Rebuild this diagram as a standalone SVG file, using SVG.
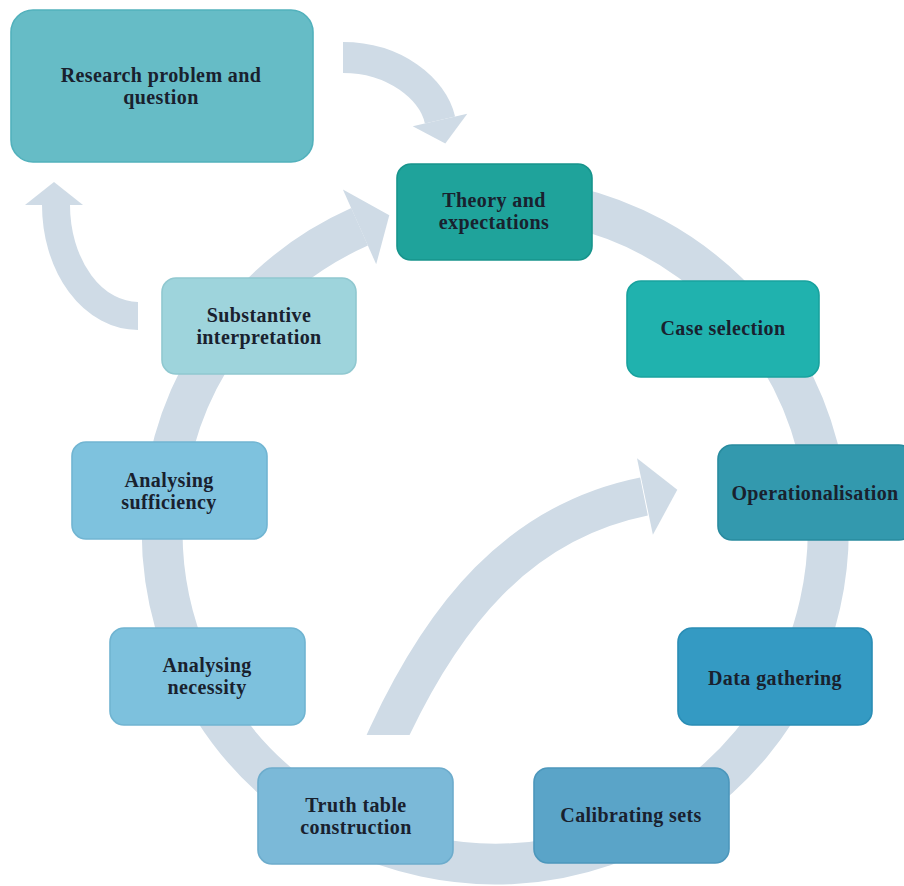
<svg xmlns="http://www.w3.org/2000/svg" width="904" height="886" viewBox="0 0 904 886">
  <style>
    .band { fill: none; stroke: #cfdbe6; stroke-linecap: butt; }
    .head { fill: #cfdbe6; stroke: none; }
    .box { stroke-width: 1.6; }
    .lbl { font-family: "Liberation Serif", "Times New Roman", serif; font-weight: bold; font-size: 20px; letter-spacing: 0.4px; fill: #19212e; text-anchor: middle; }
  </style>
  <defs>
    <clipPath id="tailCut">
      <rect x="0" y="0" width="904" height="735"/>
    </clipPath>
  </defs>
  <rect width="904" height="886" fill="#ffffff"/>

  <!-- connectors: cycle ring and curved arrows -->
  <g id="connectors">
    <!-- main cycle ring, clockwise, ending at Theory and expectations -->
    <path class="band" stroke-width="41" d="M414.4,207.9 A333,333 0 1,1 359.6,226.8"/>
    <polygon class="head" points="342.9,189.4 389.3,215.2 376.2,264.3"/>

    <!-- Research problem -> Theory and expectations -->
    <path class="band" stroke-width="31" d="M343,57.5 C395,57.5 433,89 440,120"/>
    <polygon class="head" points="467.3,113.8 445.3,143.4 412.7,126.2"/>

    <!-- Substantive interpretation -> Research problem -->
    <path class="band" stroke-width="28" d="M56,205 A82,111 0 0,0 138,316"/>
    <polygon class="head" points="25,205 54,182 83,205"/>

    <!-- Truth table construction -> Operationalisation -->
    <path class="band" stroke-width="39" clip-path="url(#tailCut)" d="M378,757 L388,735 C443,617 517,522 644,496.5"/>
    <polygon class="head" points="637,458.3 677.3,489.8 652.9,534.7"/>
  </g>

  <g id="research">
    <rect class="box" x="11" y="10" width="302" height="152" rx="22" fill="#66bcc6" stroke="#52b1bc"/>
    <text class="lbl" x="161" y="82">Research problem and</text>
    <text class="lbl" x="161" y="104">question</text>
  </g>

  <g id="theory">
    <rect class="box" x="397" y="164" width="195" height="96" rx="14" fill="#1fa39b" stroke="#17948c"/>
    <text class="lbl" x="494" y="207">Theory and</text>
    <text class="lbl" x="494" y="229">expectations</text>
  </g>

  <g id="case-selection">
    <rect class="box" x="627" y="281" width="192" height="96" rx="14" fill="#20b2ae" stroke="#18a29e"/>
    <text class="lbl" x="723" y="335">Case selection</text>
  </g>

  <g id="operationalisation">
    <rect class="box" x="718" y="445" width="195" height="95" rx="14" fill="#3399ae" stroke="#288b9f"/>
    <text class="lbl" x="815" y="500">Operationalisation</text>
  </g>

  <g id="data-gathering">
    <rect class="box" x="678" y="628" width="194" height="97" rx="14" fill="#349ac3" stroke="#2a8db5"/>
    <text class="lbl" x="775" y="685">Data gathering</text>
  </g>

  <g id="calibrating-sets">
    <rect class="box" x="534" y="768" width="195" height="95" rx="14" fill="#5aa4c8" stroke="#4c97bc"/>
    <text class="lbl" x="631" y="822">Calibrating sets</text>
  </g>

  <g id="truth-table">
    <rect class="box" x="258" y="768" width="195" height="96" rx="14" fill="#7bb9d8" stroke="#6daccc"/>
    <text class="lbl" x="356" y="812">Truth table</text>
    <text class="lbl" x="356" y="834">construction</text>
  </g>

  <g id="analysing-necessity">
    <rect class="box" x="110" y="628" width="195" height="97" rx="14" fill="#7dc1dd" stroke="#70b4d1"/>
    <text class="lbl" x="207" y="672">Analysing</text>
    <text class="lbl" x="207" y="694">necessity</text>
  </g>

  <g id="analysing-sufficiency">
    <rect class="box" x="72" y="442" width="195" height="97" rx="14" fill="#7ec2de" stroke="#71b5d2"/>
    <text class="lbl" x="169" y="487">Analysing</text>
    <text class="lbl" x="169" y="509">sufficiency</text>
  </g>

  <g id="substantive-interpretation">
    <rect class="box" x="162" y="278" width="194" height="96" rx="14" fill="#9ed4dc" stroke="#90c8d0"/>
    <text class="lbl" x="259" y="322">Substantive</text>
    <text class="lbl" x="259" y="344">interpretation</text>
  </g>
</svg>
